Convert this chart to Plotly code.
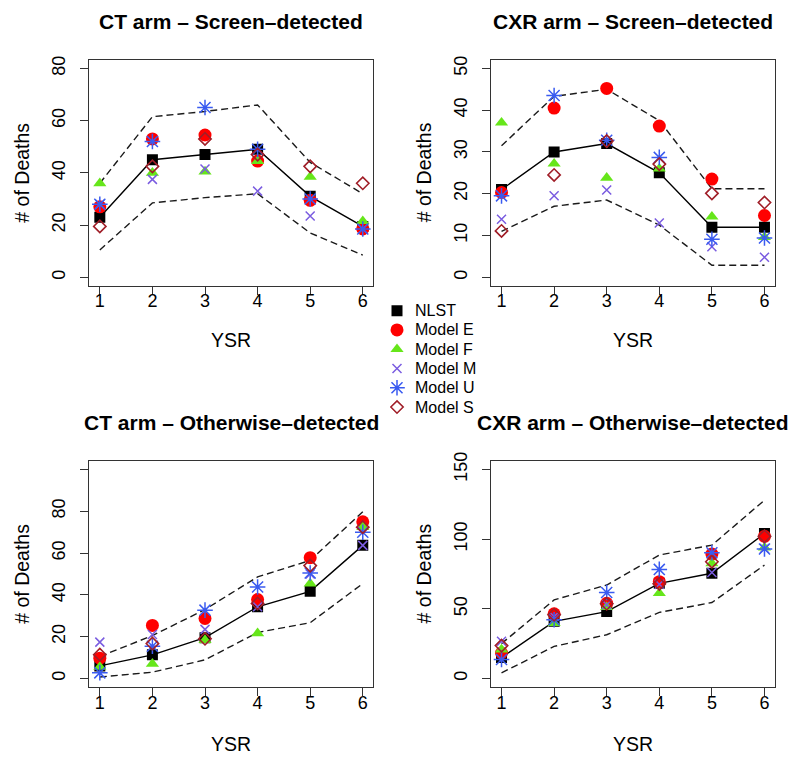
import plotly.graph_objects as go

years = [1, 2, 3, 4, 5, 6]
models = ["NLST", "Model E", "Model F", "Model M", "Model U", "Model S"]

# CT arm - Screen-detected
ct_scr = {
    "NLST":    [23, 45, 47, 49, 31, 19.5],
    "Model E": [27, 53, 54.5, 44.5, 29.5, 18.5],
    "Model F": [36, 40, 40.5, 44.5, 38.5, 21.5],
    "Model M": [28, 37.5, 41.5, 33, 23.5, 18.5],
    "Model U": [28, 52, 65, 49, 30, 18.5],
    "Model S": [19.5, 42.5, 53, 47, 42.5, 36],
}
ct_scr_upper = [36, 61.5, 63.5, 66, 44, 32]
ct_scr_lower = [10.5, 28.5, 30.5, 32, 17, 8.5]

# CXR arm - Screen-detected
cxr_scr = {
    "NLST":    [21, 30, 32, 25, 12, 12],
    "Model E": [20.3, 40.5, 45.2, 36.2, 23.5, 14.8],
    "Model F": [37, 27.2, 23.8, 26, 14.5, 9.6],
    "Model M": [13.9, 19.5, 20.9, 13, 7.3, 4.8],
    "Model U": [19.5, 43.5, 32.8, 28.7, 9.1, 9.4],
    "Model S": [11.1, 24.5, 32.6, 27.1, 20.1, 17.9],
}
cxr_scr_upper = [31.5, 43.3, 45, 37.5, 21.2, 21.2]
cxr_scr_lower = [11, 17, 18.5, 12.5, 2.9, 2.9]

# CT arm - Otherwise-detected
ct_oth = {
    "NLST":    [6, 11.3, 19.5, 34.3, 41.7, 63.7],
    "Model E": [9.7, 25.4, 28.7, 37.8, 57.8, 75],
    "Model F": [5.5, 7, 18.4, 21.6, 45.4, 72.4],
    "Model M": [17.4, 21, 23.5, 34.3, 50, 63.7],
    "Model U": [2.7, 15.4, 32.7, 43.8, 50.5, 70],
    "Model S": [11.4, 16.7, 19, 35.9, 54, 72.4],
}
ct_oth_upper = [10.5, 20.5, 33, 48.6, 56.5, 79.8]
ct_oth_lower = [0.7, 3, 8.9, 22, 26.7, 45.4]

# CXR arm - Otherwise-detected
cxr_oth = {
    "NLST":    [15, 41, 48, 68.3, 75.5, 104],
    "Model E": [18.3, 46.4, 54, 69.5, 89.3, 102],
    "Model F": [20.7, 39.8, 51.2, 61.2, 82.6, 94],
    "Model M": [26.7, 44.5, 52.9, 67.6, 76, 93.3],
    "Model U": [13.6, 42.1, 61.7, 78.3, 90.2, 92.9],
    "Model S": [23.6, 45.7, 53.6, 67.9, 83.8, 102],
}
cxr_oth_upper = [25, 56.4, 67.1, 88.6, 95.7, 128]
cxr_oth_lower = [4, 23, 31.4, 47.4, 54.5, 81.4]

titles = ["CT arm – Screen–detected", "CXR arm – Screen–detected",
          "CT arm – Otherwise–detected", "CXR arm – Otherwise–detected"]
y_ticks = [[0, 20, 40, 60, 80], [0, 10, 20, 30, 40, 50],
           [0, 20, 40, 60, 80, 100], [0, 50, 100, 150]]
y_ticktext = [["0", "20", "40", "60", "80"], ["0", "10", "20", "30", "40", "50"],
              ["0", "20", "40", "60", "80", ""], ["0", "50", "100", "150"]]
y_ranges = [[-3.2, 83.2], [-2, 52], [-4, 104], [-6, 156]]

styles = {
    "NLST":    dict(symbol="square", size=11, color="#000000"),
    "Model E": dict(symbol="circle", size=13, color="#FF0000"),
    "Model F": dict(symbol="triangle-up", size=11.5, color="#66E61A"),
    "Model M": dict(symbol="x-thin-open", size=9, color="#7A5CE0",
                    line=dict(width=1.5, color="#7A5CE0")),
    "Model U": dict(symbol="asterisk-open", size=13, color="#3A5BF0",
                    line=dict(width=1.5, color="#3A5BF0")),
    "Model S": dict(symbol="diamond-open", size=9.5, color="#A01E28",
                    line=dict(width=1.6, color="#A01E28")),
}

panels = [(ct_scr, ct_scr_upper, ct_scr_lower),
          (cxr_scr, cxr_scr_upper, cxr_scr_lower),
          (ct_oth, ct_oth_upper, ct_oth_lower),
          (cxr_oth, cxr_oth_upper, cxr_oth_lower)]

W, H = 800, 773


def py(y):
    """pixel-from-top -> paper fraction, with a small vertical layout correction"""
    y = y - 8.0 * (1 - y / H)
    return 1 - y / H


# plot boxes in pixels (left, right, top, bottom)
boxes = [(89.3, 373.3, 59, 285), (491, 775, 59, 285),
         (89.3, 373.3, 460.7, 686.7), (491, 775, 460.7, 686.7)]
ysr_gap = [54, 54, 57.5, 57.5]

fig = go.Figure()
font = "Liberation Sans, Arial, Helvetica, sans-serif"

for i, (data, up, lo) in enumerate(panels):
    xa = "x" if i == 0 else f"x{i+1}"
    ya = "y" if i == 0 else f"y{i+1}"
    dash = dict(color="#1a1a1a", width=1.4, dash="7px,4px")
    fig.add_trace(go.Scatter(x=years, y=up, mode="lines", line=dash,
                             showlegend=False, hoverinfo="skip", xaxis=xa, yaxis=ya))
    fig.add_trace(go.Scatter(x=years, y=lo, mode="lines", line=dash,
                             showlegend=False, hoverinfo="skip", xaxis=xa, yaxis=ya))
    fig.add_trace(go.Scatter(x=years, y=data["NLST"], mode="lines",
                             line=dict(color="#000000", width=1.4),
                             showlegend=False, hoverinfo="skip", xaxis=xa, yaxis=ya))
    for m in models:
        fig.add_trace(go.Scatter(
            x=years, y=data[m], mode="markers", name=m,
            marker=styles[m], showlegend=False, xaxis=xa, yaxis=ya))

    l, r, t, b = boxes[i]
    axis_common = dict(showline=True, linecolor="#333333", linewidth=1.3, mirror=True,
                       ticks="outside", ticklen=8, tickwidth=1.3, tickcolor="#333333",
                       showgrid=False, zeroline=False,
                       tickfont=dict(family=font, size=18, color="#000000"))
    fig.layout[("xaxis" if i == 0 else f"xaxis{i+1}")] = dict(
        domain=[l / W, r / W], anchor=ya, range=[0.8, 6.2],
        tickvals=years, ticktext=[str(v) for v in years],
        ticklabelstandoff=-9, **axis_common)
    fig.layout[("yaxis" if i == 0 else f"yaxis{i+1}")] = dict(
        domain=[py(b), py(t)], anchor=xa, range=y_ranges[i],
        tickvals=y_ticks[i], ticktext=y_ticktext[i], tickangle=-90,
        ticklabelstandoff=8, **axis_common)

    cx = (l + r) / 2
    fig.add_annotation(text="<b>" + titles[i] + "</b>", x=cx / W, y=py(t - 38.5),
                       xref="paper", yref="paper", showarrow=False,
                       font=dict(family=font, size=21, color="#000000"),
                       xanchor="center", yanchor="middle")
    fig.add_annotation(text="YSR", x=cx / W, y=py(b + ysr_gap[i]),
                       xref="paper", yref="paper", showarrow=False,
                       font=dict(family=font, size=19.5, color="#000000"),
                       xanchor="center", yanchor="middle")
    fig.add_annotation(text="# of Deaths", x=(l - 67.5) / W, y=py((t + b) / 2),
                       xref="paper", yref="paper", showarrow=False, textangle=-90,
                       font=dict(family=font, size=19.5, color="#000000"),
                       xanchor="center", yanchor="middle")

# custom legend on a hidden axis (rows 19.3 px apart, first row centred at y=310 px)
leg_rows = list(range(len(models)))
fig.layout["xaxis5"] = dict(domain=[390 / W, 480 / W], range=[0, 90], anchor="y5",
                            visible=False, fixedrange=True)
fig.layout["yaxis5"] = dict(domain=[py(416.15), py(300.35)],
                            range=[5.5, -0.5], anchor="x5", visible=False, fixedrange=True)
for k, m in zip(leg_rows, models):
    fig.add_trace(go.Scatter(x=[7], y=[k], mode="markers", marker=styles[m],
                             showlegend=False, hoverinfo="skip", xaxis="x5", yaxis="y5"))
    fig.add_annotation(text=m, x=22.5, y=k, xref="x5", yref="y5", showarrow=False,
                       xanchor="left", yanchor="middle",
                       font=dict(family=font, size=16, color="#000000"))

fig.update_layout(
    width=W, height=H, margin=dict(l=0, r=0, t=0, b=0),
    paper_bgcolor="white", plot_bgcolor="white", showlegend=False,
)

fig.write_html("out.html", config={"displayModeBar": False},
               post_script="document.body.style.margin='0';document.body.style.padding='0';")
